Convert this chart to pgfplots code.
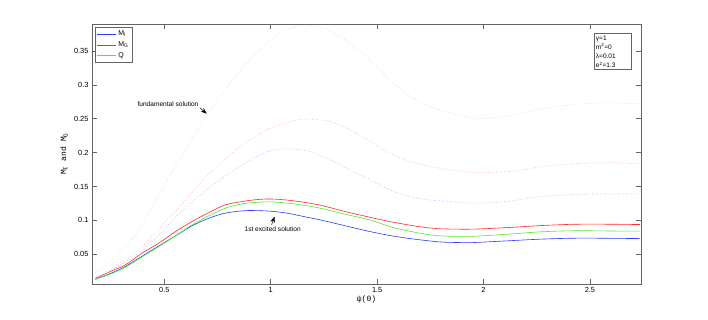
\documentclass[border=0pt]{standalone}
\usepackage{pgfplots}
\pgfplotsset{compat=1.18}
\usepackage{fontspec}
\setmainfont{Liberation Sans}
\setmonofont{Liberation Mono}
\usetikzlibrary{arrows.meta}

\definecolor{axgray}{RGB}{100,100,100}
\definecolor{cblue}{RGB}{40,60,255}
\definecolor{cred}{RGB}{255,40,40}
\definecolor{cgreen}{RGB}{90,230,40}

\begin{document}
\begin{tikzpicture}
  \useasboundingbox (0,0) rectangle (708pt,320pt);
  \begin{axis}[
    at={(92pt,36pt)}, anchor=south west,
    scale only axis,
    width=549pt, height=260pt,
    xmin=0.16, xmax=2.74,
    ymin=0.006, ymax=0.39,
    xtick={0.5,1,1.5,2,2.5},
    ytick={0.05,0.1,0.15,0.2,0.25,0.3,0.35},
    yticklabel style={/pgf/number format/fixed, /pgf/number format/precision=2},
    /pgf/number format/assume math mode=true,
    tick label style={font=\fontsize{7.4}{9}\selectfont},
    tick align=inside, major tick length=5pt,
    axis line style={axgray, line width=0.7pt},
    every tick/.style={axgray, line width=0.6pt},
    xlabel={\ttfamily ψ(0)},
    ylabel={\ttfamily M\textsubscript{I} and M\textsubscript{G}},
    label style={font=\fontsize{8}{10}\selectfont},
    xlabel style={at={(axis description cs:0.5,-0.058)}, anchor=center},
    ylabel style={at={(axis description cs:-0.051,0.5)}, anchor=center},
    legend style={at={(rel axis cs:0.0055,0.987)}, anchor=north west,
      font=\fontsize{7}{8}\selectfont, draw=axgray, inner sep=1.5pt,
      row sep=0.3pt},
    legend cell align=left,
    legend image code/.code={\draw[#1] (0pt,0pt) -- (19pt,0pt);},
    every axis plot/.append style={line width=0.6pt, smooth, tension=0.5},
  ]
  % 1st excited solution (solid)
  \addplot[cblue] coordinates {
    (0.176,0.013) (0.25,0.022) (0.317,0.032) (0.395,0.047) (0.474,0.0622)
    (0.552,0.077) (0.630,0.0919) (0.709,0.1032) (0.787,0.1107) (0.865,0.114)
    (0.918,0.1145) (1.0,0.1135) (1.075,0.1107) (1.15,0.106) (1.232,0.1007)
    (1.35,0.092) (1.467,0.0834) (1.58,0.0765) (1.702,0.0712) (1.80,0.068)
    (1.89,0.0672) (1.952,0.0672) (2.109,0.0697) (2.265,0.0722) (2.40,0.0735)
    (2.50,0.0737) (2.62,0.0734) (2.735,0.0731)
  };
  \addlegendentry{M\textsubscript{I}}
  \addplot[cred] coordinates {
    (0.176,0.0145) (0.25,0.025) (0.317,0.0342) (0.395,0.0515) (0.474,0.0663)
    (0.552,0.0834) (0.630,0.0982) (0.709,0.1115) (0.787,0.1229) (0.865,0.1278)
    (0.93,0.1305) (0.997,0.1316) (1.075,0.130) (1.15,0.127) (1.232,0.1225)
    (1.35,0.113) (1.467,0.1045) (1.58,0.097) (1.702,0.0905) (1.80,0.0875)
    (1.95,0.087) (2.109,0.0893) (2.265,0.0922) (2.40,0.094) (2.50,0.0944)
    (2.62,0.0942) (2.735,0.0938)
  };
  \addlegendentry{M\textsubscript{G}}
  \addplot[cgreen] coordinates {
    (0.176,0.013) (0.25,0.021) (0.317,0.0308) (0.395,0.046) (0.474,0.0612)
    (0.552,0.077) (0.630,0.0934) (0.709,0.1067) (0.787,0.118) (0.865,0.1244)
    (0.93,0.1265) (0.997,0.1274) (1.075,0.1255) (1.15,0.1225) (1.232,0.118)
    (1.35,0.109) (1.467,0.1005) (1.58,0.089) (1.702,0.081) (1.80,0.077)
    (1.95,0.0765) (2.109,0.0795) (2.265,0.083) (2.40,0.0845) (2.50,0.0846)
    (2.62,0.0842) (2.735,0.084)
  };
  \addlegendentry{Q}

  % fundamental solution (dotted)
  \addplot[cblue!45, dotted, forget plot] coordinates {
    (0.176,0.0145) (0.25,0.026) (0.317,0.038) (0.395,0.056) (0.47,0.077)
    (0.53,0.097) (0.589,0.1155) (0.699,0.145) (0.78,0.164) (0.856,0.1796)
    (0.93,0.194) (0.997,0.2025) (1.05,0.2055) (1.12,0.205) (1.185,0.2018)
    (1.28,0.1895) (1.37,0.1747) (1.467,0.16) (1.56,0.145) (1.655,0.135)
    (1.749,0.130) (1.843,0.1278) (1.952,0.1254) (2.109,0.1278) (2.265,0.135)
    (2.50,0.1388) (2.735,0.139)
  };
  \addplot[cred!45, dotted, forget plot] coordinates {
    (0.176,0.0145) (0.25,0.026) (0.317,0.040) (0.395,0.061) (0.47,0.086)
    (0.558,0.1155) (0.63,0.141) (0.699,0.165) (0.78,0.189) (0.856,0.209)
    (0.93,0.224) (0.997,0.236) (1.09,0.246) (1.17,0.2497) (1.28,0.246)
    (1.37,0.234) (1.467,0.2166) (1.56,0.199) (1.655,0.187) (1.749,0.1796)
    (1.843,0.1747) (1.95,0.171) (2.031,0.1707) (2.15,0.173) (2.265,0.1787)
    (2.40,0.183) (2.50,0.1846) (2.62,0.185) (2.735,0.1836)
  };
  \addplot[cgreen!50, dotted, forget plot] coordinates {
    (0.176,0.022) (0.25,0.040) (0.317,0.061) (0.38,0.086) (0.433,0.1155)
    (0.489,0.145) (0.542,0.1747) (0.621,0.214) (0.699,0.256) (0.75,0.278)
    (0.809,0.302) (0.887,0.332) (0.965,0.357) (1.044,0.377) (1.122,0.3865)
    (1.185,0.388) (1.263,0.382) (1.37,0.362) (1.467,0.337) (1.56,0.307)
    (1.655,0.283) (1.749,0.268) (1.843,0.259) (1.93,0.252) (1.984,0.250)
    (2.109,0.2535) (2.265,0.2645) (2.422,0.271) (2.55,0.2735) (2.626,0.2734)
    (2.735,0.272)
  };

  % annotations
  \node[font=\fontsize{6.6}{8}\selectfont, inner sep=0pt] at (axis cs:0.517,0.271) {fundamental solution};
  \draw[-{Stealth[length=6pt,width=4.5pt]}, line width=0.5pt] (axis cs:0.668,0.266) -- (axis cs:0.699,0.2575);
  \node[font=\fontsize{6.6}{8}\selectfont, inner sep=0pt] at (axis cs:1.009,0.087) {1st excited solution};
  \draw[-{Stealth[length=6pt,width=4.5pt]}, line width=0.5pt] (axis cs:1.004,0.0935) -- (axis cs:1.018,0.1055);
  \node[draw=axgray, fill=white, align=left, anchor=north west, inner sep=2pt,
    font=\fontsize{6.5}{9.2}\selectfont, text width=33pt]
    at (rel axis cs:0.914,0.964) {γ=1\\m\textsuperscript{2}=0\\λ=0.01\\e\textsuperscript{2}=1.3};
  \end{axis}
\end{tikzpicture}
\end{document}
